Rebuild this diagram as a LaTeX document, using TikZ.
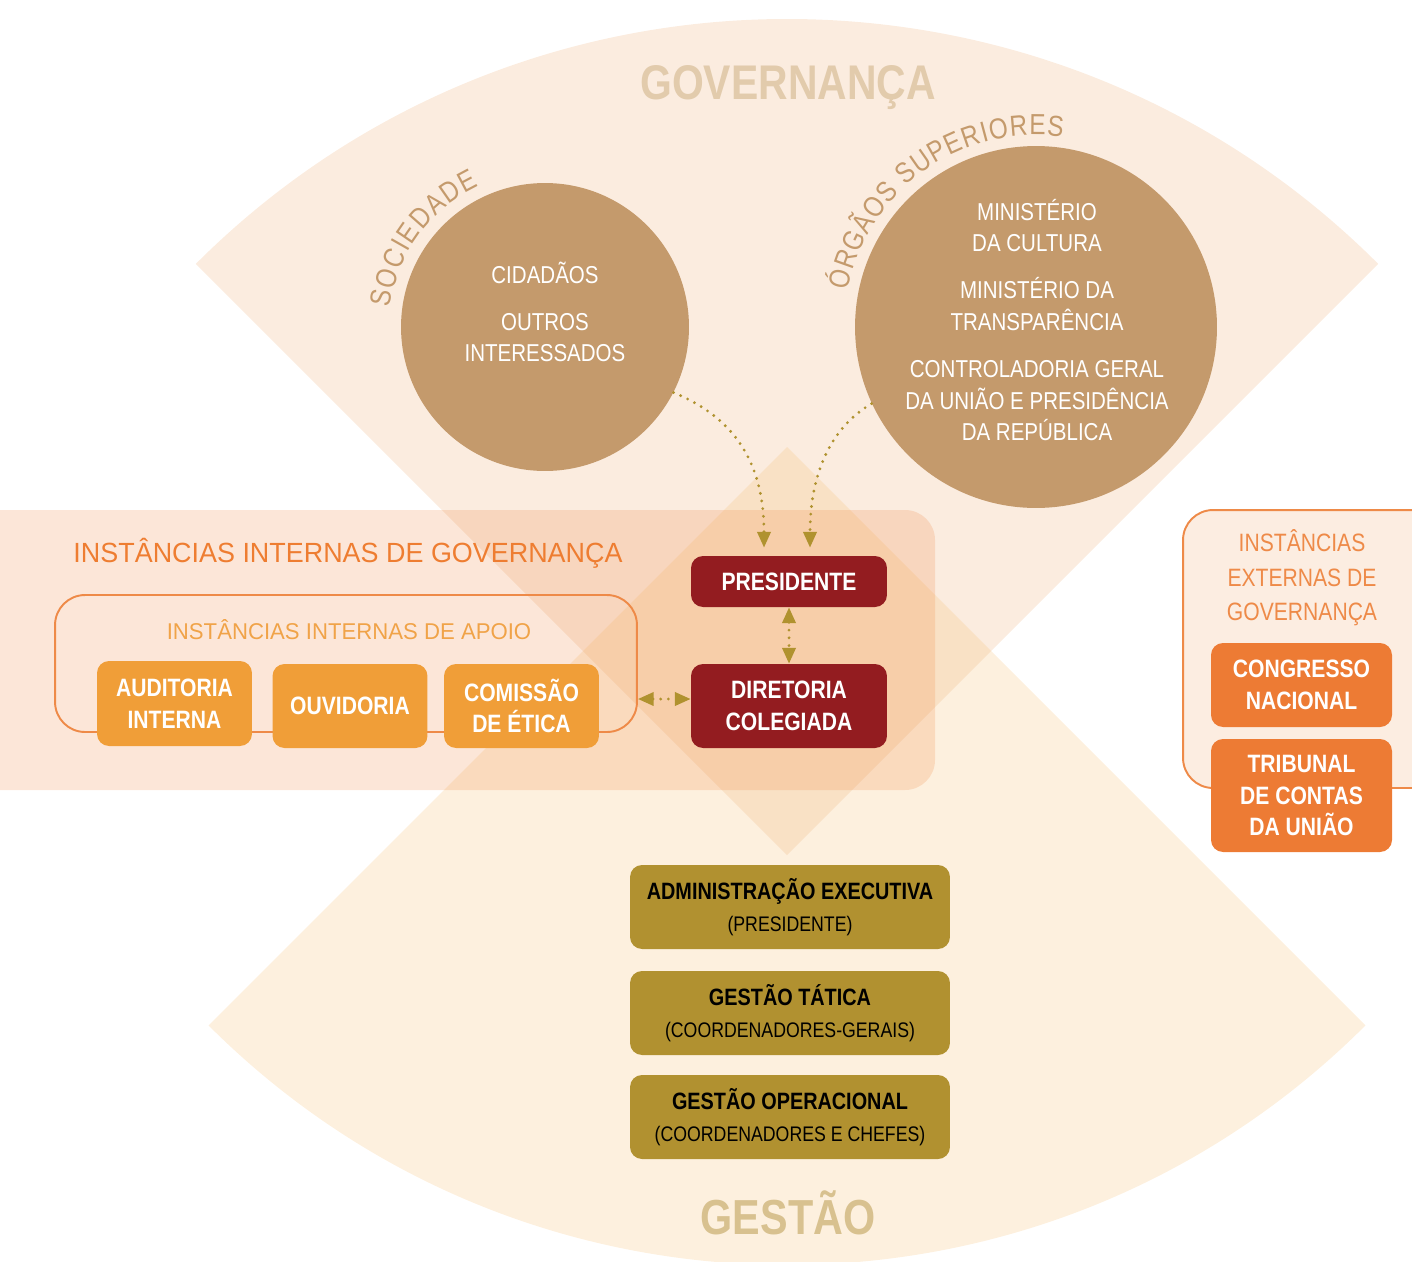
\documentclass[tikz,border=0pt]{standalone}
\usepackage{fontspec}
\setmainfont{Liberation Sans}[FakeStretch=0.84]
\newfontfamily\titlefont{Liberation Sans}[FakeStretch=0.97]
\usetikzlibrary{arrows.meta, calc, decorations.text}

\definecolor{govfill}{RGB}{251,236,223}
\definecolor{gesfill}{RGB}{247,195,123}
\definecolor{intfill}{RGB}{240,130,60}
\definecolor{orbcolor}{RGB}{196,154,108}
\definecolor{govtext}{RGB}{226,203,172}
\definecolor{gestext}{RGB}{216,193,143}
\definecolor{orangeA}{RGB}{238,125,49}
\definecolor{orangeB}{RGB}{240,163,72}
\definecolor{orangeC}{RGB}{238,138,72}
\definecolor{apoiofill}{RGB}{240,158,56}
\definecolor{wine}{RGB}{147,28,32}
\definecolor{extfill}{RGB}{237,123,52}
\definecolor{extbg}{RGB}{252,237,225}
\definecolor{olive}{RGB}{177,145,48}
\definecolor{linkcolor}{RGB}{176,146,47}

\begin{document}
\begin{tikzpicture}[x=0.02cm, y=-0.02cm, >={Triangle[length=9pt,width=7.5pt]}, line cap=round, line join=round,
	box/.style={rounded corners=0.24cm, align=center, inner sep=0pt, text=white,
		font=\fontsize{14.3}{18.1}\selectfont\bfseries},
	apoiobox/.style={box, fill=apoiofill, minimum width=3.1cm, minimum height=1.68cm},
	dirbox/.style={box, fill=wine, minimum width=3.92cm},
	extbox/.style={box, fill=extfill, minimum width=3.62cm},
	gesbox/.style={box, fill=olive, text=black, minimum width=6.4cm, minimum height=1.68cm,
		font=\fontsize{13.45}{18.1}\selectfont},
	orb/.style={circle, fill=orbcolor, inner sep=0pt},
	orbtext/.style={align=center, text=white, font=\fontsize{13.9}{18.1}\selectfont},
	frame/.style={draw=orangeC, line width=1.1pt, rounded corners=0.6cm, inner sep=0pt},
	link/.style={draw=linkcolor, line width=1.8pt, dash pattern=on 0pt off 4.4pt, line cap=round},
	arctext/.style={decorate, decoration={text along path, text align={fit to path}, text color=orbcolor, text={#1}}}]
	
	\clip (0,0) rectangle (1412,1261);
	
	%========================
	% background: the two sectors and the band
	%========================
	\fill[govfill] (787,855) -- ++(225:836) arc[start angle=225, end angle=315, radius=836] -- cycle;
	\fill[gesfill, opacity=0.25] (787,447) -- ++(135:818) arc[start angle=135, end angle=45, radius=818] -- cycle;
	\fill[intfill, opacity=0.2, rounded corners=0.6cm] (-40,510) rectangle (935,790);
	
	\node[font=\fontsize{27.7}{30}\selectfont\bfseries, text=govtext] (gov) at (788,88) {GOVERNANÇA};
	\node[font=\fontsize{28}{30}\selectfont\bfseries, text=gestext] (ges) at (788,1213) {GESTÃO};
	
	%========================
	% top: sociedade and orgaos superiores
	%========================
	\node[orb, minimum size=5.76cm] (soc) at (545,327) {};
	\node[orb, minimum size=7.24cm] (org) at (1036,327) {};
	
	\node[orbtext] (soctext) at (545,312) {CIDADÃOS\\[8.5pt] OUTROS\\INTERESSADOS};
	\node[orbtext] (orgtext) at (1037,320) {MINISTÉRIO\\DA CULTURA\\[8.5pt]
		MINISTÉRIO DA\\TRANSPARÊNCIA\\[8.5pt]
		CONTROLADORIA GERAL\\DA UNIÃO E PRESIDÊNCIA\\DA REPÚBLICA};
	
	% curved labels round the circles
	\path[arctext={|\fontsize{16.5}{17}\selectfont|SOCIEDADE}]
	($(soc.center)+(187:156)$) arc[start angle=187, end angle=245, radius=156];
	\path[arctext={|\fontsize{16.5}{17}\selectfont|ÓRGÃOS SUPERIORES}]
	($(org.center)+(191:192)$) arc[start angle=191, end angle=278, radius=192];
	
	%========================
	% instancias internas
	%========================
	\node[font=\titlefont\fontsize{15.8}{18}\selectfont, text=orangeA] (inttitle) at (348,553)
	{INSTÂNCIAS INTERNAS DE GOVERNANÇA};
	
	\node[frame, minimum width=11.64cm, minimum height=2.74cm] (apoio) at (346,663.5) {};
	\node[font=\titlefont\fontsize{13}{15}\selectfont, text=orangeB] (apoiotitle) at (349,630)
	{INSTÂNCIAS INTERNAS DE APOIO};
	
	\node[apoiobox, minimum height=1.7cm] (aud) at (174.5,703.5) {AUDITORIA\\INTERNA};
	\node[apoiobox] (ouv) at (350,706) {OUVIDORIA};
	\node[apoiobox] (com) at (521.5,706) {COMISSÃO\\DE ÉTICA};
	
	\node[dirbox, minimum height=1.02cm] (pres) at (789,581.5) {PRESIDENTE};
	\node[dirbox, minimum height=1.68cm] (dir) at (789,706) {DIRETORIA\\COLEGIADA};
	
	%========================
	% instancias externas
	%========================
	\node[frame, fill=extbg, minimum width=5.2cm, minimum height=5.56cm] (ext) at (1313,649) {};
	\node[align=center, text=orangeC, font=\fontsize{14.3}{19.6}\selectfont] (exttitle) at (1302,578)
	{INSTÂNCIAS\\EXTERNAS DE\\GOVERNANÇA};
	\node[extbox, minimum height=1.68cm] (cong) at (1301.5,685) {CONGRESSO\\NACIONAL};
	\node[extbox, minimum height=2.26cm] (trib) at (1301.5,795.5) {TRIBUNAL\\DE CONTAS\\DA UNIÃO};
	
	%========================
	% gestao
	%========================
	\node[gesbox] (adm) at (790,907) {{\bfseries ADMINISTRAÇÃO EXECUTIVA}\\{\fontsize{12}{18.1}\selectfont (PRESIDENTE)}};
	\node[gesbox] (tat) at (790,1013) {{\bfseries GESTÃO TÁTICA}\\{\fontsize{12}{18.1}\selectfont (COORDENADORES-GERAIS)}};
	\node[gesbox] (oper) at (790,1117) {{\bfseries GESTÃO OPERACIONAL}\\{\fontsize{12}{18.1}\selectfont (COORDENADORES E CHEFES)}};
	
	%========================
	% links
	%========================
	\coordinate (presleft) at ($(pres.north)+(-25,-8)$);
	\coordinate (presright) at ($(pres.north)+(21,-8)$);
	\coordinate (dirleft) at ($(dir.west)+(0,-7)$);
	
	\draw[link, ->] (soc.-27) .. controls +(58,24) and +(0,-88) .. (presleft);
	\draw[link, ->] (org.205) .. controls +(-38,22) and +(0,-78) .. (presright);
	\draw[link, <->] (pres.south) -- (dir.north);
	\draw[link, <->] (apoio.east |- dirleft) -- (dirleft);
	
\end{tikzpicture}
\end{document}
